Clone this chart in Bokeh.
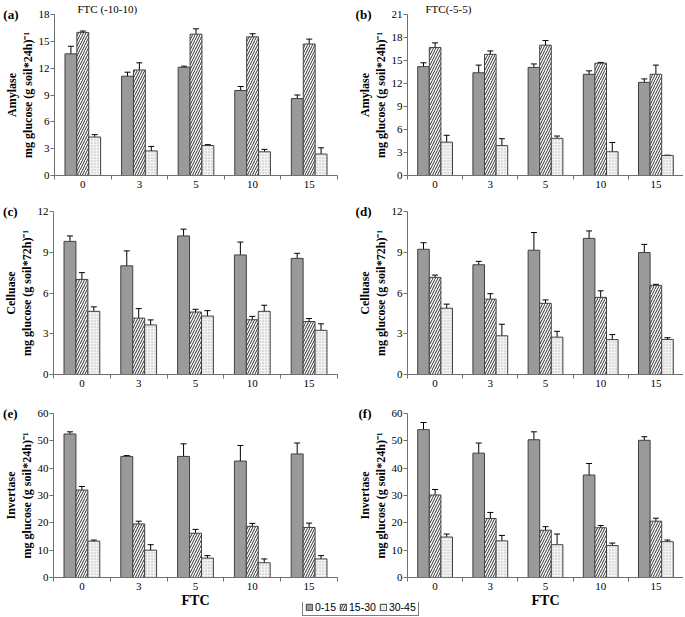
from bokeh.plotting import figure
from bokeh.layouts import column, row
from bokeh.models import (Range1d, FixedTicker, ColumnDataSource, Whisker, TeeHead,
                          LinearAxis, Legend, LegendItem)
from bokeh.embed import file_html
from bokeh.resources import INLINE

# ---------------- data ----------------
ftc = ["0", "3", "5", "10", "15"]
depths = ["0-15", "15-30", "30-45"]

# (a) Amylase, FTC (-10-10)
a_015 = [13.6, 11.1, 12.1, 9.5, 8.6]
a_015_err = [0.85, 0.45, 0.12, 0.45, 0.4]
a_1530 = [16.0, 11.8, 15.8, 15.5, 14.7]
a_1530_err = [0.15, 0.8, 0.6, 0.35, 0.55]
a_3045 = [4.3, 2.75, 3.35, 2.65, 2.4]
a_3045_err = [0.27, 0.5, 0.1, 0.27, 0.7]

# (b) Amylase, FTC (-5-5)
b_015 = [14.2, 13.4, 14.1, 13.2, 12.15]
b_015_err = [0.5, 1.0, 0.45, 0.45, 0.45]
b_1530 = [16.7, 15.8, 17.0, 14.65, 13.2]
b_1530_err = [0.6, 0.45, 0.6, 0.1, 1.2]
b_3045 = [4.35, 3.9, 4.85, 3.1, 2.6]
b_3045_err = [0.9, 0.9, 0.3, 1.2, 0.05]

# (c) Celluase, FTC (-10-10)
c_015 = [9.8, 8.0, 10.2, 8.8, 8.55]
c_015_err = [0.4, 1.1, 0.5, 0.95, 0.37]
c_1530 = [7.0, 4.15, 4.6, 4.03, 3.9]
c_1530_err = [0.5, 0.7, 0.2, 0.25, 0.22]
c_3045 = [4.65, 3.65, 4.3, 4.65, 3.25]
c_3045_err = [0.33, 0.37, 0.4, 0.45, 0.48]

# (d) Celluase, FTC (-5-5)
d_015 = [9.22, 8.08, 9.15, 10.02, 8.98]
d_015_err = [0.48, 0.25, 1.3, 0.55, 0.6]
d_1530 = [7.15, 5.55, 5.24, 5.68, 6.56]
d_1530_err = [0.17, 0.4, 0.25, 0.48, 0.08]
d_3045 = [4.88, 2.85, 2.75, 2.57, 2.58]
d_3045_err = [0.3, 0.85, 0.43, 0.37, 0.13]

# (e) Invertase, FTC (-10-10)
e_015 = [52.5, 44.3, 44.3, 42.6, 45.2]
e_015_err = [0.8, 0.3, 4.6, 5.7, 4.0]
e_1530 = [32.0, 19.6, 16.2, 18.7, 18.3]
e_1530_err = [1.3, 1.0, 1.4, 1.1, 1.6]
e_3045 = [13.3, 10.0, 7.1, 5.4, 6.8]
e_3045_err = [0.4, 2.0, 0.9, 1.4, 1.2]

# (f) Invertase, FTC (-5-5)
f_015 = [54.1, 45.5, 50.4, 37.5, 50.2]
f_015_err = [2.6, 3.7, 2.9, 4.2, 1.3]
f_1530 = [30.2, 21.6, 17.3, 18.2, 20.6]
f_1530_err = [2.0, 2.2, 1.3, 0.8, 1.1]
f_3045 = [14.8, 13.4, 12.0, 11.7, 13.1]
f_3045_err = [1.1, 2.0, 3.9, 0.9, 0.6]

# ---------------- style ----------------
SERIF = "Liberation Serif"
OUT = "#404040"
AX = "#707070"
STYLES = [
    dict(fill_color="#9a9a9a", line_color=OUT, line_width=1),
    dict(fill_color="white", line_color=OUT, line_width=1,
         hatch_pattern="right_diagonal_line", hatch_color="#303030", hatch_scale=5, hatch_weight=1),
    dict(fill_color="#f3f3f3", line_color=OUT, line_width=1,
         hatch_pattern="dot", hatch_color="#b8b8b8", hatch_scale=3, hatch_weight=1),
]
BW = 0.21
OFFS = [-BW, 0.0, BW]


def make_panel(tag, ylab, ymax, ystep, vals, errs, width, height, bl, bt, bb, br,
               tag_standoff, title=None, title_dx=0, xlabel=None):
    p = figure(width=width, height=height, x_range=Range1d(0, len(ftc)),
               y_range=Range1d(0, ymax), output_backend="svg", toolbar_location=None,
               min_border_left=bl, min_border_top=bt, min_border_bottom=bb,
               min_border_right=br)
    p.xgrid.visible = False
    p.ygrid.visible = False
    p.outline_line_color = None
    p.background_fill_color = "white"

    centers = [i + 0.5 for i in range(len(ftc))]
    for k in range(3):
        xs = [c + OFFS[k] for c in centers]
        src = ColumnDataSource(dict(
            x=xs, top=vals[k],
            upper=[v + e for v, e in zip(vals[k], errs[k])],
            lower=[v - e for v, e in zip(vals[k], errs[k])]))
        p.vbar(x="x", top="top", bottom=0, width=BW, source=src, **STYLES[k])
        w = Whisker(source=src, base="x", upper="upper", lower="lower",
                    dimension="height", line_color="black", line_width=1,
                    upper_head=TeeHead(size=6, line_color="black", line_width=1),
                    lower_head=TeeHead(size=6, line_color="black", line_width=1))
        p.add_layout(w)

    # x axis: labels at centres, ticks at category boundaries
    xa = p.xaxis[0]
    xa.ticker = FixedTicker(ticks=centers, minor_ticks=list(range(len(ftc) + 1)))
    xa.major_label_overrides = {c: lab for c, lab in zip(centers, ftc)}
    xa.major_tick_out = 0
    xa.major_tick_in = 0
    xa.minor_tick_out = 4
    xa.minor_tick_in = 0
    xa.axis_line_color = AX
    xa.minor_tick_line_color = AX
    xa.major_label_standoff = 1
    xa.major_label_text_font = SERIF
    xa.major_label_text_font_size = "11px"
    xa.major_label_text_color = "black"
    if xlabel:
        xa.axis_label = xlabel
        xa.axis_label_text_font = SERIF
        xa.axis_label_text_font_style = "bold"
        xa.axis_label_text_font_size = "14px"
        xa.axis_label_standoff = 0
        xa.axis_label_text_color = "black"

    ya = p.yaxis[0]
    ya.ticker = FixedTicker(ticks=list(range(0, ymax + 1, ystep)))
    ya.major_tick_out = 4
    ya.major_tick_in = 0
    ya.minor_tick_out = 0
    ya.minor_tick_in = 0
    ya.axis_line_color = AX
    ya.major_tick_line_color = AX
    ya.major_label_standoff = 1
    ya.major_label_text_font = SERIF
    ya.major_label_text_font_size = "11px"
    ya.major_label_text_color = "black"
    ya.axis_label = ylab
    ya.axis_label_text_font = SERIF
    ya.axis_label_text_font_style = "bold"
    ya.axis_label_text_font_size = "12px"
    ya.axis_label_text_line_height = 1.1
    ya.axis_label_standoff = 1
    ya.axis_label_text_color = "black"

    # panel tag, "(a)" etc., drawn as the single label of an outer left axis
    tag_axis = LinearAxis(ticker=FixedTicker(ticks=[ymax], minor_ticks=[]),
                          major_label_overrides={ymax: tag},
                          axis_line_color=None, major_tick_line_color=None,
                          minor_tick_line_color=None, major_tick_out=0, major_tick_in=0,
                          minor_tick_out=0, minor_tick_in=0,
                          major_label_standoff=tag_standoff,
                          major_label_text_font=SERIF, major_label_text_font_style="bold",
                          major_label_text_font_size="13px", major_label_text_color="black")
    p.add_layout(tag_axis, "left")

    if title:
        p.title.text = title
        p.title.align = "left"
        p.title.offset = title_dx
        p.title.standoff = 0
        p.title.text_font = SERIF
        p.title.text_font_style = "normal"
        p.title.text_font_size = "11px"
        p.title.text_color = "black"
    return p


LW, RW = 350, 333
H1, H2, H3, HL = 199, 199, 218, 14
amy = "Amylase\nmg glucose (g soil*24h)\u207b\u00b9"
cel = "Celluase\nmg glucose (g soil*72h)\u207b\u00b9"
inv = "Invertase\nmg glucose (g soil*24h)\u207b\u00b9"

pa = make_panel("(a)", amy, 18, 3, [a_015, a_1530, a_3045], [a_015_err, a_1530_err, a_3045_err],
                LW, H1, 50, 0, 24, 13, -16, "FTC (-10-10)", 23)
pb = make_panel("(b)", amy, 21, 3, [b_015, b_1530, b_3045], [b_015_err, b_1530_err, b_3045_err],
                RW, H1, 57, 0, 24, 0, -16, "FTC(-5-5)", 18)
pc = make_panel("(c)", cel, 12, 3, [c_015, c_1530, c_3045], [c_015_err, c_1530_err, c_3045_err],
                LW, H2, 50, 12, 24, 13, -16)
pd = make_panel("(d)", cel, 12, 3, [d_015, d_1530, d_3045], [d_015_err, d_1530_err, d_3045_err],
                RW, H2, 57, 12, 24, 0, -16)
pe = make_panel("(e)", inv, 60, 10, [e_015, e_1530, e_3045], [e_015_err, e_1530_err, e_3045_err],
                LW, H3, 50, 15, 39, 13, -16, xlabel="FTC")
pf = make_panel("(f)", inv, 60, 10, [f_015, f_1530, f_3045], [f_015_err, f_1530_err, f_3045_err],
                RW, H3, 57, 15, 39, 0, -16, xlabel="FTC")

# legend strip (overlaps the empty bottom band of the last row)
lg = figure(width=LW + RW, height=HL, x_range=Range1d(0, 1), y_range=Range1d(0, 1),
            output_backend="svg", toolbar_location=None, min_border=0,
            margin=(-HL, 0, 0, 0))
lg.axis.visible = False
lg.xgrid.visible = False
lg.ygrid.visible = False
lg.outline_line_color = None
lg.border_fill_color = None
lg.background_fill_color = None
items = []
for k in range(3):
    r = lg.vbar(x=[5], top=[1], bottom=0, width=0.1, **STYLES[k])
    items.append(LegendItem(label=depths[k], renderers=[r]))
legend = Legend(items=items, orientation="horizontal", location=(302, 0),
                glyph_width=8, glyph_height=8, label_height=9, label_width=5,
                label_standoff=2, spacing=3, padding=2, margin=0,
                label_text_font="Liberation Sans", label_text_font_size="10.5px",
                label_text_color="black", border_line_color="black", border_line_width=1,
                background_fill_color="white", background_fill_alpha=1)
lg.add_layout(legend, "center")

layout = column(row(pa, pb), row(pc, pd), row(pe, pf), lg)

open("out.html", "w").write(file_html(layout, INLINE))
